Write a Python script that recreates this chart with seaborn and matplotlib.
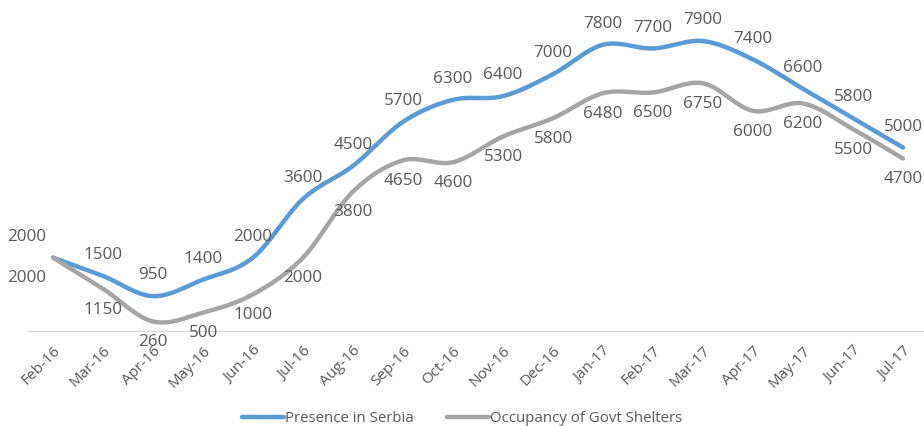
import matplotlib
matplotlib.use("Agg")

import matplotlib.pyplot as plt
import numpy as np
import pandas as pd
import seaborn as sns

months = ["Feb-16", "Mar-16", "Apr-16", "May-16", "Jun-16", "Jul-16", "Aug-16",
          "Sep-16", "Oct-16", "Nov-16", "Dec-16", "Jan-17", "Feb-17", "Mar-17",
          "Apr-17", "May-17", "Jun-17", "Jul-17"]
presence = [2000, 1500, 950, 1400, 2000, 3600, 4500, 5700, 6300, 6400, 7000,
            7800, 7700, 7900, 7400, 6600, 5800, 5000]
shelters = [2000, 1150, 260, 500, 1000, 2000, 3800, 4650, 4600, 5300, 5800,
            6480, 6500, 6750, 6000, 6200, 5500, 4700]

BLUE = "#5B9BD5"
GREY = "#A5A5A5"
TEXT = "#595959"

sns.set_theme(style="white")
plt.rcParams["font.family"] = ["Open Sans", "DejaVu Sans"]


def smooth(y, steps=20):
    # Excel-style smoothed line: cubic Bezier between the points
    y = np.asarray(y, dtype=float)
    x = np.arange(len(y), dtype=float)
    xs, ys = [], []
    for i in range(len(y) - 1):
        i0, i3 = max(i - 1, 0), min(i + 2, len(y) - 1)
        p0 = np.array([x[i], y[i]])
        p3 = np.array([x[i + 1], y[i + 1]])
        p1 = p0 + (p3 - np.array([x[i0], y[i0]])) / 6
        p2 = p3 - (np.array([x[i3], y[i3]]) - p0) / 6
        t = np.linspace(0, 1, steps, endpoint=(i == len(y) - 2))[:, None]
        pts = ((1 - t) ** 3 * p0 + 3 * (1 - t) ** 2 * t * p1
               + 3 * (1 - t) * t ** 2 * p2 + t ** 3 * p3)
        xs.extend(pts[:, 0])
        ys.extend(pts[:, 1])
    return xs, ys


frames = []
for name, vals in [("Presence in Serbia", presence),
                   ("Occupancy of Govt Shelters", shelters)]:
    sx, sy = smooth(vals)
    frames.append(pd.DataFrame({"x": sx, "y": sy, "series": name}))
df = pd.concat(frames, ignore_index=True)

fig = plt.figure(figsize=(9.24, 4.26), dpi=100)
ax = fig.add_axes([28 / 924, 1 - 331 / 426, 900 / 924, 331 / 426])

sns.lineplot(data=df, x="x", y="y", hue="series", sort=False, estimator=None,
             palette=[BLUE, GREY], linewidth=3.2, ax=ax, legend=True)

ax.set_xlim(-0.5, len(months) - 0.5)
ax.set_ylim(0, 9020)
ax.set_yticks([])
ax.set_xticks(range(len(months)))
ax.set_xticklabels(months, rotation=45, ha="right", rotation_mode="anchor",
                   color=TEXT, fontsize=11)
ax.tick_params(axis="x", length=0, pad=9)
ax.set_xlabel("")
ax.set_ylabel("")
for side in ["top", "right", "left"]:
    ax.spines[side].set_visible(False)
ax.spines["bottom"].set_color("#D9D9D9")
ax.spines["bottom"].set_linewidth(1)

for i, (p, s) in enumerate(zip(presence, shelters)):
    dx = -19 if i == 0 else 0
    ax.annotate(str(p), (i, p), xytext=(dx, 15), textcoords="offset points",
                ha="center", va="center", color=TEXT, fontsize=12.3)
    ax.annotate(str(s), (i, s), xytext=(dx, -15), textcoords="offset points",
                ha="center", va="center", color=TEXT, fontsize=12.3)

leg = ax.legend(loc="center", bbox_to_anchor=(434 / 900, -88 / 331), ncol=2,
                frameon=False, fontsize=10.8, handlelength=2.8,
                handletextpad=0.1, columnspacing=2.2)
for t in leg.get_texts():
    t.set_color(TEXT)

fig.savefig("out.png", dpi=100)
